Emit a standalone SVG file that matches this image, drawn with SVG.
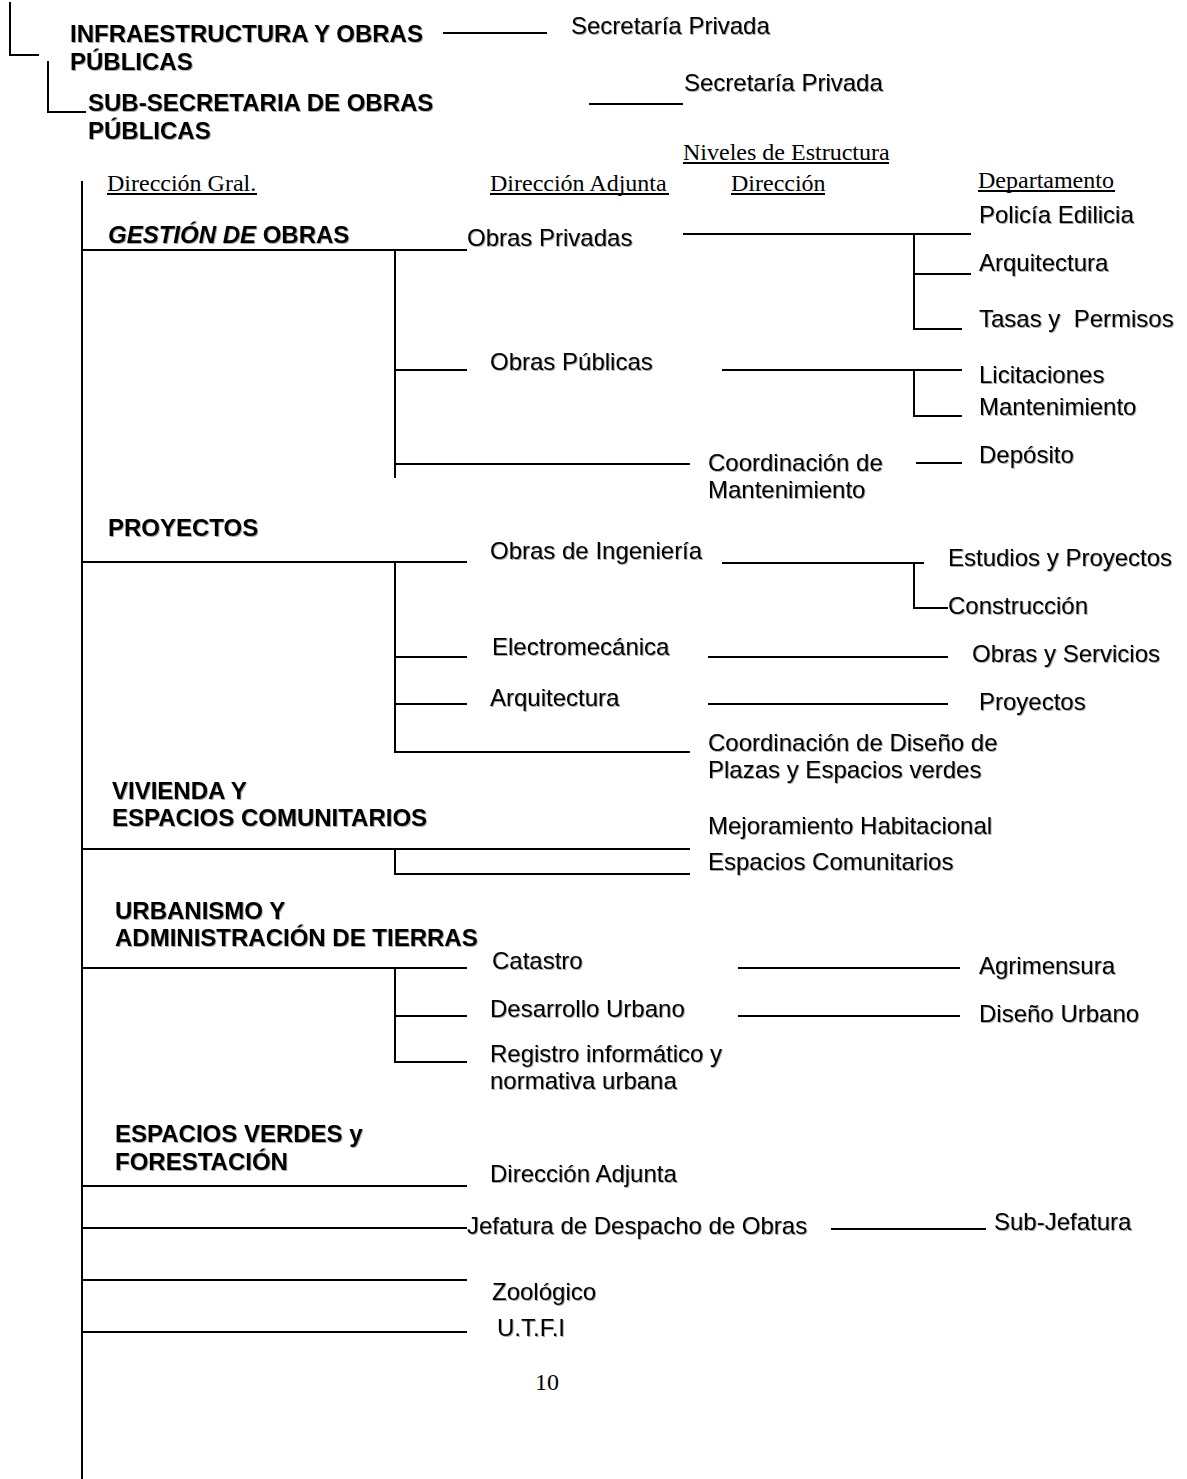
<svg xmlns="http://www.w3.org/2000/svg" width="1187" height="1479" viewBox="0 0 1187 1479">
<defs>
<filter id="sh" x="-5%" y="-20%" width="110%" height="140%">
<feDropShadow dx="1" dy="1" stdDeviation="0.6" flood-color="#000" flood-opacity="0.35"/>
</filter>
</defs>
<style>
.a{font-family:"Liberation Sans",Arial,sans-serif;font-size:24px;fill:#000;filter:url(#sh)}
.b{font-weight:bold}
.t{font-family:"Liberation Serif","Times New Roman",serif;font-size:24px;fill:#000}
.l{stroke:#000;stroke-width:2;fill:none}
</style>
<rect width="1187" height="1479" fill="#fff"/>
<g id="connectors" class="l">
<path d="M10 2V55H39M48 61V112H86"/>
<path d="M443 33H547M589 104H683"/>
<path d="M683 163H889M107 194H257M490 194H669M731 194H825M978 191H1115"/>
<path d="M82 181V1479"/>
<path d="M82 250H467M395 250V478M395 370H467M395 464H690"/>
<path d="M683 234H971M914 234V329H962M914 274H971"/>
<path d="M722 370H962M914 370V416H962M916 463H962"/>
<path d="M82 562H467M395 562V752H690M395 657H467M395 704H467"/>
<path d="M722 563H924M914 563V608H948"/>
<path d="M708 657H948M708 704H948"/>
<path d="M82 849H690M395 849V874H690"/>
<path d="M82 968H467M395 968V1062H467M395 1016H467"/>
<path d="M738 968H960M738 1016H960"/>
<path d="M82 1186H467M82 1228H467M831 1229H986M82 1280H467M82 1332H467"/>
</g>
<g id="infraestructura"><text class="a b" x="70" y="42">INFRAESTRUCTURA Y OBRAS</text><text class="a b" x="70" y="70">PÚBLICAS</text></g>
<g id="secretaria1"><text class="a" x="571" y="34">Secretaría Privada</text></g>
<g id="subsecretaria"><text class="a b" x="88" y="111">SUB-SECRETARIA DE OBRAS</text><text class="a b" x="88" y="139">PÚBLICAS</text></g>
<g id="secretaria2"><text class="a" x="684" y="91">Secretaría Privada</text></g>
<g id="niveles"><text class="t" x="683" y="160">Niveles de Estructura</text></g>
<g id="h-dirgral"><text class="t" x="107" y="191">Dirección Gral.</text></g>
<g id="h-diradj"><text class="t" x="490" y="191">Dirección Adjunta</text></g>
<g id="h-dir"><text class="t" x="731" y="191">Dirección</text></g>
<g id="h-depto"><text class="t" x="978" y="188">Departamento</text></g>
<g id="gestion"><text class="a b" x="108" y="243"><tspan font-style="italic">GESTIÓN DE</tspan> OBRAS</text></g>
<g id="obras-privadas"><text class="a" x="467" y="246">Obras Privadas</text></g>
<g id="policia"><text class="a" x="979" y="223">Policía Edilicia</text></g>
<g id="arq1"><text class="a" x="979" y="271">Arquitectura</text></g>
<g id="tasas"><text class="a" x="979" y="327" xml:space="preserve">Tasas y  Permisos</text></g>
<g id="obras-publicas"><text class="a" x="490" y="370">Obras Públicas</text></g>
<g id="licitaciones"><text class="a" x="979" y="383">Licitaciones</text></g>
<g id="mant1"><text class="a" x="979" y="415">Mantenimiento</text></g>
<g id="coord-mant"><text class="a" x="708" y="471">Coordinación de</text><text class="a" x="708" y="498">Mantenimiento</text></g>
<g id="deposito"><text class="a" x="979" y="463">Depósito</text></g>
<g id="proyectos"><text class="a b" x="108" y="536">PROYECTOS</text></g>
<g id="obras-ing"><text class="a" x="490" y="559">Obras de Ingeniería</text></g>
<g id="estudios"><text class="a" x="948" y="566">Estudios y Proyectos</text></g>
<g id="construccion"><text class="a" x="948" y="614">Construcción</text></g>
<g id="electro"><text class="a" x="492" y="655">Electromecánica</text></g>
<g id="obras-serv"><text class="a" x="972" y="662">Obras y Servicios</text></g>
<g id="arq2"><text class="a" x="490" y="706">Arquitectura</text></g>
<g id="proy2"><text class="a" x="979" y="710">Proyectos</text></g>
<g id="coord-plazas"><text class="a" x="708" y="751">Coordinación de Diseño de</text><text class="a" x="708" y="778">Plazas y Espacios verdes</text></g>
<g id="vivienda"><text class="a b" x="112" y="799">VIVIENDA Y</text><text class="a b" x="112" y="826">ESPACIOS COMUNITARIOS</text></g>
<g id="mejoramiento"><text class="a" x="708" y="834">Mejoramiento Habitacional</text></g>
<g id="esp-com"><text class="a" x="708" y="870">Espacios Comunitarios</text></g>
<g id="urbanismo"><text class="a b" x="115" y="919">URBANISMO Y</text><text class="a b" x="115" y="946">ADMINISTRACIÓN DE TIERRAS</text></g>
<g id="catastro"><text class="a" x="492" y="969">Catastro</text></g>
<g id="agrimensura"><text class="a" x="979" y="974">Agrimensura</text></g>
<g id="desarrollo"><text class="a" x="490" y="1017">Desarrollo Urbano</text></g>
<g id="diseno"><text class="a" x="979" y="1022">Diseño Urbano</text></g>
<g id="registro"><text class="a" x="490" y="1062">Registro informático y</text><text class="a" x="490" y="1089">normativa urbana</text></g>
<g id="espacios-verdes"><text class="a b" x="115" y="1142">ESPACIOS VERDES y</text><text class="a b" x="115" y="1170">FORESTACIÓN</text></g>
<g id="dir-adj"><text class="a" x="490" y="1182">Dirección Adjunta</text></g>
<g id="jefatura"><text class="a" x="467" y="1234">Jefatura de Despacho de Obras</text></g>
<g id="subjefatura"><text class="a" x="994" y="1230">Sub-Jefatura</text></g>
<g id="zoologico"><text class="a" x="492" y="1300">Zoológico</text></g>
<g id="utfi"><text class="a" x="497" y="1336">U.T.F.I</text></g>
<g id="page"><text class="t" x="535" y="1390">10</text></g>
</svg>
